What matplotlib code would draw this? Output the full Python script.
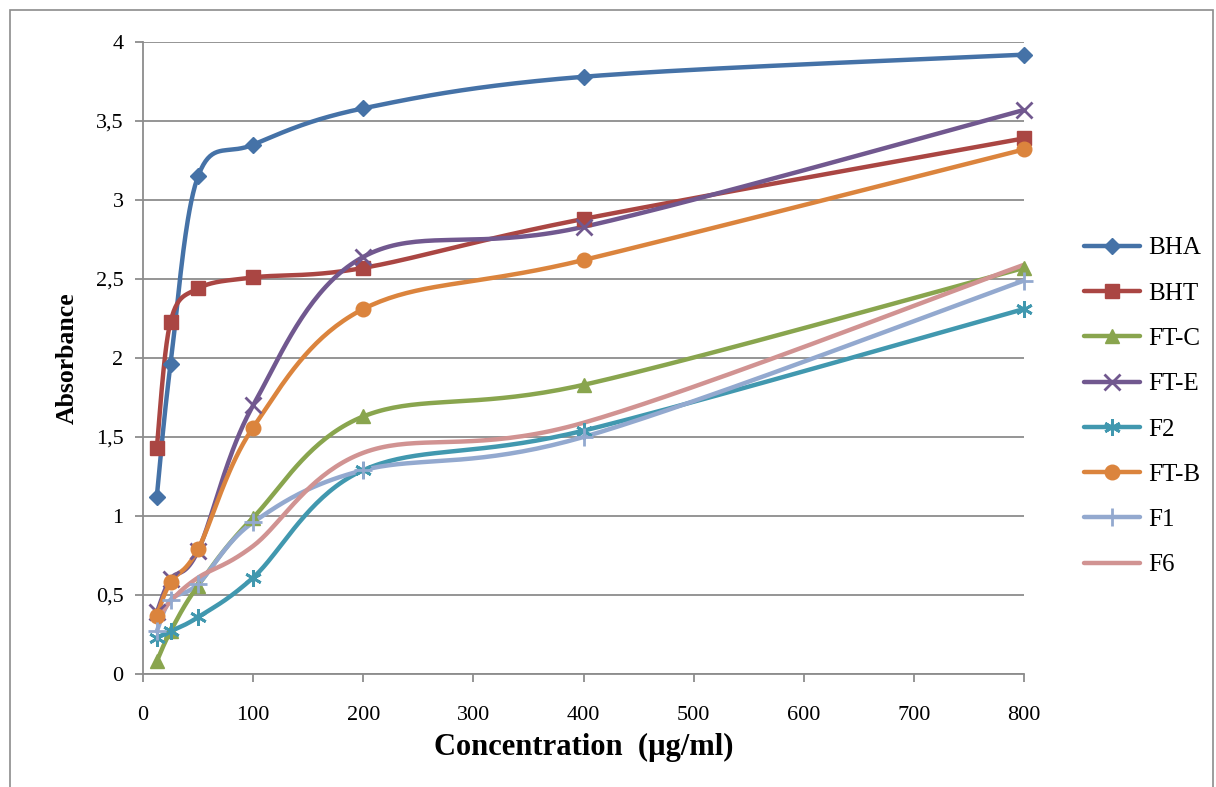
import numpy as np
import matplotlib
matplotlib.use('Agg')
import matplotlib.pyplot as plt
from matplotlib.patches import Rectangle
from matplotlib.ticker import FuncFormatter, MultipleLocator

# concentrations (doubling series)
conc = [12.5, 25, 50, 100, 200, 400, 800]

bha = [1.12, 1.96, 3.15, 3.35, 3.58, 3.78, 3.92]
bht = [1.43, 2.23, 2.44, 2.51, 2.57, 2.88, 3.39]
ft_c = [0.08, 0.27, 0.56, 0.99, 1.63, 1.83, 2.57]
ft_e = [0.39, 0.60, 0.78, 1.70, 2.64, 2.83, 3.57]
f2 = [0.23, 0.27, 0.36, 0.61, 1.29, 1.54, 2.31]
ft_b = [0.37, 0.58, 0.79, 1.56, 2.31, 2.62, 3.32]
f1 = [0.27, 0.47, 0.57, 0.96, 1.29, 1.50, 2.49]
f6 = [0.33, 0.46, 0.61, 0.81, 1.40, 1.59, 2.59]

names = ['BHA', 'BHT', 'FT-C', 'FT-E', 'F2', 'FT-B', 'F1', 'F6']
series = [bha, bht, ft_c, ft_e, f2, ft_b, f1, f6]
colors = ['#4572A7', '#AA4643', '#89A54E', '#71588F', '#4198AF',
          '#DB843D', '#93A9CF', '#D19392']
markers = ['D', 's', '^', 'x', (6, 2, 0), 'o', '+', None]
msizes = [8.5, 10, 10.5, 11, 12, 10.5, 13, 0]


def smooth(xs, ys, n=40):
    # Excel-like smoothed line: cubic bezier through points
    p = np.column_stack([xs, ys]).astype(float)
    ext = np.vstack([p[0], p, p[-1]])
    out = [p[:1]]
    t = np.linspace(0, 1, n)[1:, None]
    for i in range(len(p) - 1):
        p0, p1, p2, p3 = ext[i], ext[i + 1], ext[i + 2], ext[i + 3]
        c1 = p1 + (p2 - p0) / 6
        c2 = p2 - (p3 - p1) / 6
        seg = ((1 - t) ** 3 * p1 + 3 * (1 - t) ** 2 * t * c1
               + 3 * (1 - t) * t ** 2 * c2 + t ** 3 * p2)
        out.append(seg)
    s = np.vstack(out)
    return s[:, 0], s[:, 1]


plt.rcParams['font.family'] = 'Liberation Serif'

fig = plt.figure(figsize=(12.16, 7.87), dpi=100)
ax = fig.add_axes([143 / 1216, 113 / 787, 881 / 1216, 632 / 787])

handles = []
for name, ys, col, mk, ms in zip(names, series, colors, markers, msizes):
    mew = 2 if mk in ('x', '+') or isinstance(mk, tuple) else 1
    sx, sy = smooth(conc, ys)
    ax.plot(sx, sy, color=col, lw=3.2, solid_capstyle='round', zorder=3)
    if mk is not None:
        ax.plot(conc, ys, linestyle='none', marker=mk, ms=ms, color=col,
                mec=col, mew=mew, zorder=4, clip_on=False)
    h, = ax.plot([], [], color=col, lw=3.2, marker=mk, ms=ms, mec=col,
                 mew=mew, solid_capstyle='round')
    handles.append(h)

ax.set_xlim(0, 800)
ax.set_ylim(0, 4)
ax.xaxis.set_major_locator(MultipleLocator(100))
ax.yaxis.set_major_locator(MultipleLocator(0.5))
ax.yaxis.set_major_formatter(FuncFormatter(lambda v, p: f'{v:g}'.replace('.', ',')))
ax.grid(axis='y', color='#8c8c8c', lw=1.3, zorder=0)
ax.set_axisbelow(True)
for s in ['top', 'right']:
    ax.spines[s].set_visible(False)
for s in ['left', 'bottom']:
    ax.spines[s].set_color('#8c8c8c')
    ax.spines[s].set_linewidth(1.3)
ax.tick_params(axis='both', direction='out', length=6, width=1.3,
               color='#8c8c8c', labelsize=16)
ax.tick_params(axis='x', pad=17)
ax.tick_params(axis='y', pad=8)

ax.set_xlabel('Concentration  (µg/ml)', fontsize=22, fontweight='bold', labelpad=6)
ax.set_ylabel('Absorbance', fontsize=18.5, fontweight='bold', labelpad=12)

fig.legend(handles, names, loc='upper left', bbox_to_anchor=(1084 / 1216, 1 - 237 / 787),
           frameon=False, fontsize=18, handlelength=2.25, handletextpad=0.3,
           labelspacing=0.91, borderpad=0, borderaxespad=0)

fig.patches.append(Rectangle((10 / 1216, -0.01), 1203 / 1216, 1 - 10 / 787 + 0.01,
                             transform=fig.transFigure, fill=False,
                             edgecolor='#8c8c8c', lw=1.2))

fig.savefig('out.png', dpi=100)
